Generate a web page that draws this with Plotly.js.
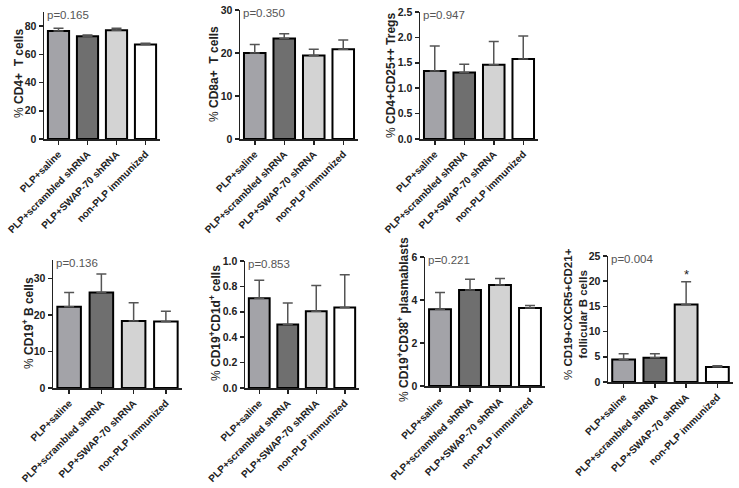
<!DOCTYPE html>
<html>
<head>
<meta charset="utf-8">
<script src="https://cdn.plot.ly/plotly-3.0.1.min.js"></script>
<style>html,body{margin:0;padding:0;background:#fff;}#chart{width:739px;height:488px;}</style>
</head>
<body>
<div id="chart"></div>
<script>
const categories = ["PLP+saline", "PLP+scrambled shRNA", "PLP+SWAP-70 shRNA", "non-PLP immunized"];
const barColors = ["#a3a3a8", "#6f6f6f", "#d3d3d3", "#ffffff"];

const cd4 = [76.5, 72.8, 77.0, 66.9];
const cd4Err = [1.9, 0.9, 1.4, 0.9];
const cd8 = [20.0, 23.4, 19.4, 20.9];
const cd8Err = [1.95, 1.1, 1.5, 2.15];
const tregs = [1.34, 1.31, 1.46, 1.575];
const tregsErr = [0.49, 0.16, 0.46, 0.455];
const cd19 = [22.2, 26.1, 18.3, 18.2];
const cd19Err = [3.9, 5.1, 5.0, 2.8];
const cd1d = [0.706, 0.50, 0.604, 0.633];
const cd1dErr = [0.142, 0.169, 0.204, 0.259];
const plasma = [3.57, 4.47, 4.70, 3.63];
const plasmaErr = [0.78, 0.50, 0.30, 0.12];
const foll = [4.44, 4.83, 15.4, 2.98];
const follErr = [1.16, 0.77, 4.5, 0.26];

const pLabels = ["p=0.165", "p=0.350", "p=0.947", "p=0.136", "p=0.853", "p=0.221", "p=0.004"];
const yTitles = [
  "% <b>CD4+  T cells</b>",
  "% <b>CD8a+  T cells</b>",
  "% <b>CD4+CD25++ Tregs</b>",
  "% <b>CD19<sup>+</sup> B cells</b>",
  "% <b>CD19<sup>+</sup>CD1d<sup>+</sup> cells</b>",
  "% <b>CD19<sup>+</sup>CD38<sup>+</sup> plasmablasts</b>",
  "% <b>CD19+CXCR5+CD21+<br>follicular B cells</b>"
];
const yRanges = [[0, 90], [0, 30], [0, 2.5], [0, 35], [0, 1.0], [0, 6], [0, 25]];
const yDticks = [20, 10, 0.5, 10, 0.2, 2, 5];
const yFormats = ["d", "d", ".1f", "d", ".1f", "d", "d"];

const series = [
  [cd4, cd4Err], [cd8, cd8Err], [tregs, tregsErr], [cd19, cd19Err],
  [cd1d, cd1dErr], [plasma, plasmaErr], [foll, follErr]
];

// pixel boxes [left, right, top, bottom]
const boxes = [
  [44, 160, 12, 139],
  [240, 358, 10, 139],
  [420, 538, 12, 139],
  [53, 182, 260, 388],
  [245, 359, 261, 388],
  [425, 545, 257, 386],
  [608, 733, 256, 382]
];
// y-title centres in pixels
const titlePos = [[19, 74], [214, 74], [391, 75], [28, 323], [215, 323], [403, 320], [575, 314]];
const titleSize = [12, 12, 12, 12, 12, 12, 11.5];
const W = 739, H = 488;
const font = "Liberation Sans, Arial, sans-serif";

const traces = [];
const layout = {
  width: W, height: H,
  margin: {l: 0, r: 0, t: 0, b: 0},
  paper_bgcolor: "#fff", plot_bgcolor: "#fff",
  showlegend: false,
  bargap: 0.27,
  font: {family: font, color: "#222"},
  annotations: []
};

series.forEach((s, i) => {
  const n = i + 1;
  const xa = n === 1 ? "x" : "x" + n;
  const ya = n === 1 ? "y" : "y" + n;
  traces.push({
    type: "bar",
    x: categories,
    y: s[0],
    xaxis: xa, yaxis: ya,
    marker: {color: barColors, line: {color: "#000", width: 2}},
    error_y: {type: "data", symmetric: false, array: s[1], arrayminus: s[1].map(() => 0),
      color: "#555", thickness: 1.5, width: 5},
    hoverinfo: "none"
  });
  const b = boxes[i];
  layout["xaxis" + (n === 1 ? "" : n)] = {
    domain: [b[0] / W, b[1] / W],
    anchor: ya,
    type: "category",
    tickangle: -45,
    tickfont: {size: 10, family: font, color: "#222", weight: "bold"},
    showline: true, linecolor: "#222", linewidth: 1.5,
    ticks: "outside", ticklen: 4, tickcolor: "#222", tickwidth: 1.5,
    showgrid: false, zeroline: false, fixedrange: true
  };
  layout["yaxis" + (n === 1 ? "" : n)] = {
    domain: [1 - b[3] / H, 1 - b[2] / H],
    anchor: xa,
    range: yRanges[i],
    dtick: yDticks[i], tick0: 0,
    tickformat: yFormats[i],
    tickfont: {size: 10.5, family: font, color: "#222", weight: "bold"},
    showline: true, linecolor: "#222", linewidth: 1.5,
    ticks: "outside", ticklen: 4, tickcolor: "#222", tickwidth: 1.5,
    showgrid: false, zeroline: false, fixedrange: true
  };
  layout.annotations.push({
    xref: xa + " domain", yref: ya + " domain",
    x: 0.01, y: 1, xanchor: "left", yanchor: "middle", yshift: -3,
    text: pLabels[i], showarrow: false,
    font: {size: 11.5, family: font, color: "#555"}
  });
  layout.annotations.push({
    xref: "paper", yref: "paper",
    x: titlePos[i][0] / W, y: 1 - titlePos[i][1] / H,
    xanchor: "center", yanchor: "middle", textangle: -90,
    text: yTitles[i], showarrow: false,
    font: {size: titleSize[i], family: font, color: "#222"}
  });
});

layout.annotations.push({
  xref: "x7", yref: "y7", x: categories[2], y: foll[2] + follErr[2] + 1.4,
  text: "*", showarrow: false, font: {size: 13, family: font, color: "#222"}
});

Plotly.newPlot("chart", traces, layout, {displayModeBar: false, staticPlot: true});
</script>
</body>
</html>
